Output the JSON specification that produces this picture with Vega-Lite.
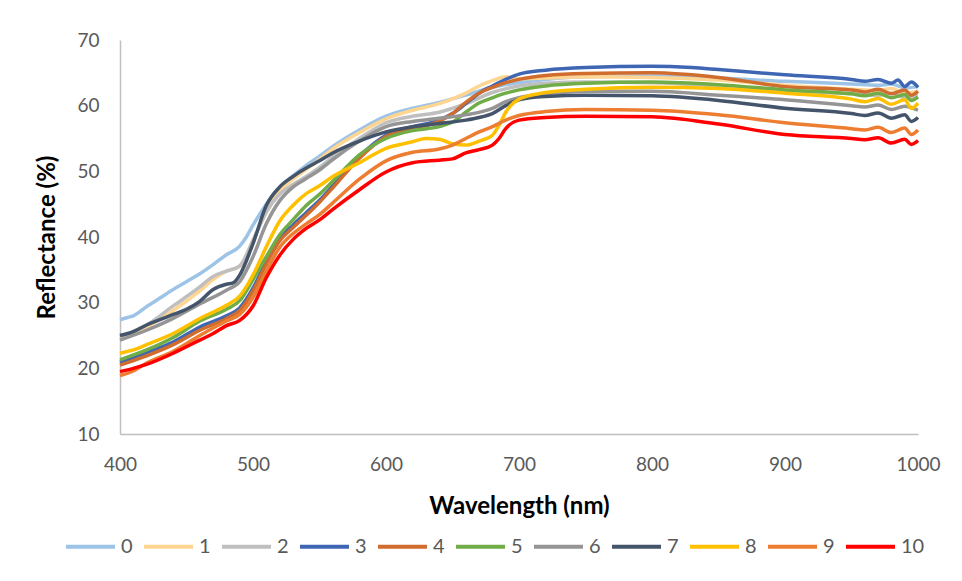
{
  "$schema": "https://vega.github.io/schema/vega-lite/v6.json",
  "width": 798,
  "height": 394,
  "autosize": {"type": "none"},
  "padding": {"left": 120, "top": 40, "right": 44, "bottom": 147},
  "background": "#ffffff",
  "config": {
    "view": {"stroke": null},
    "axis": {
      "grid": false,
      "ticks": false,
      "labelFlush": false,
      "domainColor": "#BFBFBF",
      "domainWidth": 1.5,
      "labelColor": "#595959",
      "labelFont": "Lato",
      "labelFontSize": 19,
      "titleFont": "Lato",
      "titleFontSize": 24,
      "titleFontWeight": "bold",
      "titleColor": "#000000"
    }
  },
  "data": {"values": [
    {"s":"0","x":400,"y":27.4},{"s":"0","x":405,"y":27.7},{"s":"0","x":410,"y":28.0},{"s":"0","x":420,"y":29.4},{"s":"0","x":430,"y":30.7},{"s":"0","x":440,"y":32.0},{"s":"0","x":450,"y":33.2},{"s":"0","x":460,"y":34.4},{"s":"0","x":470,"y":35.8},{"s":"0","x":480,"y":37.3},{"s":"0","x":490,"y":38.6},{"s":"0","x":495,"y":40.0},{"s":"0","x":500,"y":41.8},{"s":"0","x":510,"y":45.0},{"s":"0","x":520,"y":47.6},{"s":"0","x":530,"y":49.3},{"s":"0","x":540,"y":50.9},{"s":"0","x":550,"y":52.3},{"s":"0","x":560,"y":53.8},{"s":"0","x":580,"y":56.3},{"s":"0","x":600,"y":58.4},{"s":"0","x":620,"y":59.6},{"s":"0","x":640,"y":60.5},{"s":"0","x":660,"y":61.6},{"s":"0","x":680,"y":62.8},{"s":"0","x":700,"y":63.5},{"s":"0","x":720,"y":64.0},{"s":"0","x":750,"y":64.4},{"s":"0","x":800,"y":64.5},{"s":"0","x":850,"y":64.2},{"s":"0","x":900,"y":63.7},{"s":"0","x":950,"y":63.3},{"s":"0","x":970,"y":63.1},{"s":"0","x":980,"y":63.3},{"s":"0","x":990,"y":62.7},{"s":"0","x":1000,"y":62.9},

    {"s":"1","x":400,"y":24.6},{"s":"1","x":420,"y":26.3},{"s":"1","x":440,"y":28.8},{"s":"1","x":460,"y":31.8},{"s":"1","x":470,"y":33.5},{"s":"1","x":480,"y":34.8},{"s":"1","x":490,"y":35.5},{"s":"1","x":500,"y":39.5},{"s":"1","x":510,"y":43.8},{"s":"1","x":520,"y":47.0},{"s":"1","x":530,"y":48.8},{"s":"1","x":540,"y":50.3},{"s":"1","x":550,"y":51.8},{"s":"1","x":560,"y":53.4},{"s":"1","x":580,"y":55.9},{"s":"1","x":600,"y":58.0},{"s":"1","x":620,"y":59.3},{"s":"1","x":640,"y":60.3},{"s":"1","x":660,"y":61.9},{"s":"1","x":670,"y":63.0},{"s":"1","x":680,"y":63.8},{"s":"1","x":690,"y":64.4},{"s":"1","x":700,"y":64.1},{"s":"1","x":720,"y":64.2},{"s":"1","x":750,"y":64.4},{"s":"1","x":800,"y":64.3},{"s":"1","x":850,"y":63.9},{"s":"1","x":900,"y":63.1},{"s":"1","x":950,"y":62.5},{"s":"1","x":970,"y":62.3},{"s":"1","x":980,"y":62.6},{"s":"1","x":990,"y":61.9},{"s":"1","x":1000,"y":62.2},

    {"s":"2","x":400,"y":24.8},{"s":"2","x":420,"y":26.6},{"s":"2","x":440,"y":29.5},{"s":"2","x":460,"y":32.4},{"s":"2","x":470,"y":34.0},{"s":"2","x":480,"y":34.8},{"s":"2","x":490,"y":35.6},{"s":"2","x":500,"y":39.5},{"s":"2","x":510,"y":43.8},{"s":"2","x":520,"y":46.5},{"s":"2","x":530,"y":48.0},{"s":"2","x":540,"y":49.2},{"s":"2","x":550,"y":50.6},{"s":"2","x":560,"y":52.2},{"s":"2","x":580,"y":55.0},{"s":"2","x":600,"y":57.4},{"s":"2","x":620,"y":58.4},{"s":"2","x":640,"y":59.0},{"s":"2","x":660,"y":60.3},{"s":"2","x":680,"y":62.0},{"s":"2","x":700,"y":63.0},{"s":"2","x":720,"y":63.4},{"s":"2","x":750,"y":63.6},{"s":"2","x":800,"y":63.5},{"s":"2","x":850,"y":63.0},{"s":"2","x":900,"y":62.3},{"s":"2","x":950,"y":61.8},{"s":"2","x":970,"y":61.6},{"s":"2","x":980,"y":61.9},{"s":"2","x":990,"y":61.2},{"s":"2","x":1000,"y":61.5},

    {"s":"3","x":400,"y":20.9},{"s":"3","x":420,"y":22.4},{"s":"3","x":440,"y":24.0},{"s":"3","x":460,"y":26.3},{"s":"3","x":480,"y":28.0},{"s":"3","x":490,"y":29.2},{"s":"3","x":500,"y":32.2},{"s":"3","x":510,"y":36.3},{"s":"3","x":520,"y":39.7},{"s":"3","x":530,"y":41.8},{"s":"3","x":540,"y":43.7},{"s":"3","x":550,"y":45.6},{"s":"3","x":560,"y":47.8},{"s":"3","x":580,"y":52.3},{"s":"3","x":600,"y":55.5},{"s":"3","x":620,"y":56.8},{"s":"3","x":640,"y":57.8},{"s":"3","x":650,"y":58.8},{"s":"3","x":660,"y":60.3},{"s":"3","x":670,"y":61.9},{"s":"3","x":680,"y":63.0},{"s":"3","x":690,"y":64.0},{"s":"3","x":700,"y":64.8},{"s":"3","x":720,"y":65.4},{"s":"3","x":750,"y":65.8},{"s":"3","x":800,"y":66.0},{"s":"3","x":830,"y":65.8},{"s":"3","x":850,"y":65.5},{"s":"3","x":900,"y":64.7},{"s":"3","x":950,"y":64.0},{"s":"3","x":960,"y":63.7},{"s":"3","x":970,"y":64.0},{"s":"3","x":980,"y":63.4},{"s":"3","x":985,"y":63.9},{"s":"3","x":990,"y":62.9},{"s":"3","x":995,"y":63.6},{"s":"3","x":1000,"y":62.8},

    {"s":"4","x":400,"y":20.5},{"s":"4","x":420,"y":21.9},{"s":"4","x":440,"y":23.6},{"s":"4","x":460,"y":25.8},{"s":"4","x":480,"y":27.6},{"s":"4","x":490,"y":28.8},{"s":"4","x":500,"y":31.8},{"s":"4","x":510,"y":35.9},{"s":"4","x":520,"y":39.4},{"s":"4","x":530,"y":41.4},{"s":"4","x":540,"y":43.3},{"s":"4","x":550,"y":45.3},{"s":"4","x":560,"y":47.5},{"s":"4","x":580,"y":52.0},{"s":"4","x":600,"y":55.3},{"s":"4","x":620,"y":56.6},{"s":"4","x":640,"y":57.6},{"s":"4","x":650,"y":58.8},{"s":"4","x":660,"y":60.5},{"s":"4","x":670,"y":61.9},{"s":"4","x":680,"y":62.8},{"s":"4","x":690,"y":63.5},{"s":"4","x":700,"y":64.0},{"s":"4","x":720,"y":64.6},{"s":"4","x":750,"y":64.9},{"s":"4","x":800,"y":65.0},{"s":"4","x":850,"y":64.3},{"s":"4","x":900,"y":62.9},{"s":"4","x":950,"y":62.4},{"s":"4","x":960,"y":62.1},{"s":"4","x":970,"y":62.5},{"s":"4","x":980,"y":61.8},{"s":"4","x":990,"y":62.4},{"s":"4","x":995,"y":61.6},{"s":"4","x":1000,"y":62.2},

    {"s":"5","x":400,"y":21.3},{"s":"5","x":420,"y":22.8},{"s":"5","x":440,"y":24.7},{"s":"5","x":460,"y":27.2},{"s":"5","x":480,"y":29.0},{"s":"5","x":490,"y":30.3},{"s":"5","x":500,"y":33.5},{"s":"5","x":510,"y":37.0},{"s":"5","x":520,"y":40.3},{"s":"5","x":530,"y":42.6},{"s":"5","x":540,"y":44.8},{"s":"5","x":550,"y":46.5},{"s":"5","x":560,"y":48.5},{"s":"5","x":580,"y":52.5},{"s":"5","x":600,"y":55.0},{"s":"5","x":620,"y":56.2},{"s":"5","x":640,"y":56.8},{"s":"5","x":650,"y":57.5},{"s":"5","x":660,"y":59.0},{"s":"5","x":670,"y":60.4},{"s":"5","x":680,"y":61.2},{"s":"5","x":690,"y":61.9},{"s":"5","x":700,"y":62.4},{"s":"5","x":720,"y":63.0},{"s":"5","x":750,"y":63.4},{"s":"5","x":800,"y":63.6},{"s":"5","x":850,"y":63.2},{"s":"5","x":900,"y":62.4},{"s":"5","x":950,"y":61.8},{"s":"5","x":960,"y":61.5},{"s":"5","x":970,"y":61.9},{"s":"5","x":980,"y":61.2},{"s":"5","x":990,"y":61.7},{"s":"5","x":995,"y":60.8},{"s":"5","x":1000,"y":61.3},

    {"s":"6","x":400,"y":24.3},{"s":"6","x":420,"y":25.8},{"s":"6","x":440,"y":27.6},{"s":"6","x":460,"y":29.8},{"s":"6","x":480,"y":31.9},{"s":"6","x":490,"y":33.2},{"s":"6","x":500,"y":37.0},{"s":"6","x":510,"y":42.0},{"s":"6","x":520,"y":45.5},{"s":"6","x":530,"y":47.6},{"s":"6","x":540,"y":48.9},{"s":"6","x":550,"y":50.2},{"s":"6","x":560,"y":51.8},{"s":"6","x":580,"y":54.6},{"s":"6","x":600,"y":56.8},{"s":"6","x":620,"y":57.6},{"s":"6","x":640,"y":58.1},{"s":"6","x":660,"y":58.6},{"s":"6","x":680,"y":59.6},{"s":"6","x":690,"y":60.6},{"s":"6","x":700,"y":61.2},{"s":"6","x":720,"y":61.8},{"s":"6","x":750,"y":62.2},{"s":"6","x":800,"y":62.2},{"s":"6","x":850,"y":61.6},{"s":"6","x":900,"y":60.9},{"s":"6","x":950,"y":60.0},{"s":"6","x":960,"y":59.8},{"s":"6","x":970,"y":60.1},{"s":"6","x":980,"y":59.4},{"s":"6","x":990,"y":59.9},{"s":"6","x":1000,"y":59.3},

    {"s":"7","x":400,"y":25.0},{"s":"7","x":410,"y":25.6},{"s":"7","x":420,"y":26.6},{"s":"7","x":430,"y":27.4},{"s":"7","x":440,"y":28.2},{"s":"7","x":450,"y":29.0},{"s":"7","x":460,"y":30.2},{"s":"7","x":470,"y":32.0},{"s":"7","x":480,"y":32.8},{"s":"7","x":485,"y":33.0},{"s":"7","x":490,"y":34.2},{"s":"7","x":500,"y":39.0},{"s":"7","x":510,"y":44.8},{"s":"7","x":520,"y":47.6},{"s":"7","x":530,"y":49.2},{"s":"7","x":540,"y":50.5},{"s":"7","x":550,"y":51.6},{"s":"7","x":560,"y":52.8},{"s":"7","x":580,"y":54.6},{"s":"7","x":600,"y":56.0},{"s":"7","x":620,"y":56.8},{"s":"7","x":640,"y":57.3},{"s":"7","x":660,"y":57.8},{"s":"7","x":670,"y":58.2},{"s":"7","x":680,"y":58.8},{"s":"7","x":690,"y":60.0},{"s":"7","x":700,"y":60.9},{"s":"7","x":720,"y":61.4},{"s":"7","x":750,"y":61.6},{"s":"7","x":800,"y":61.5},{"s":"7","x":850,"y":60.8},{"s":"7","x":900,"y":59.6},{"s":"7","x":950,"y":58.8},{"s":"7","x":960,"y":58.5},{"s":"7","x":970,"y":58.9},{"s":"7","x":980,"y":58.1},{"s":"7","x":990,"y":58.6},{"s":"7","x":995,"y":57.6},{"s":"7","x":1000,"y":58.2},

    {"s":"8","x":400,"y":22.3},{"s":"8","x":410,"y":22.8},{"s":"8","x":420,"y":23.6},{"s":"8","x":440,"y":25.3},{"s":"8","x":460,"y":27.6},{"s":"8","x":480,"y":29.6},{"s":"8","x":490,"y":31.0},{"s":"8","x":500,"y":34.2},{"s":"8","x":510,"y":38.5},{"s":"8","x":520,"y":42.4},{"s":"8","x":530,"y":44.8},{"s":"8","x":540,"y":46.6},{"s":"8","x":550,"y":47.8},{"s":"8","x":560,"y":49.2},{"s":"8","x":580,"y":51.3},{"s":"8","x":600,"y":53.5},{"s":"8","x":620,"y":54.5},{"s":"8","x":630,"y":55.0},{"s":"8","x":640,"y":54.9},{"s":"8","x":650,"y":54.2},{"s":"8","x":660,"y":54.0},{"s":"8","x":670,"y":54.6},{"s":"8","x":680,"y":55.5},{"s":"8","x":685,"y":57.0},{"s":"8","x":690,"y":59.0},{"s":"8","x":700,"y":61.0},{"s":"8","x":720,"y":62.0},{"s":"8","x":750,"y":62.5},{"s":"8","x":800,"y":62.8},{"s":"8","x":850,"y":62.6},{"s":"8","x":900,"y":61.9},{"s":"8","x":950,"y":61.0},{"s":"8","x":960,"y":60.6},{"s":"8","x":970,"y":61.1},{"s":"8","x":980,"y":60.2},{"s":"8","x":990,"y":60.9},{"s":"8","x":995,"y":59.6},{"s":"8","x":1000,"y":60.4},

    {"s":"9","x":400,"y":18.9},{"s":"9","x":410,"y":19.6},{"s":"9","x":420,"y":20.8},{"s":"9","x":440,"y":22.6},{"s":"9","x":460,"y":25.0},{"s":"9","x":480,"y":27.2},{"s":"9","x":490,"y":28.2},{"s":"9","x":500,"y":30.8},{"s":"9","x":510,"y":34.8},{"s":"9","x":520,"y":38.4},{"s":"9","x":530,"y":40.5},{"s":"9","x":540,"y":42.0},{"s":"9","x":550,"y":43.4},{"s":"9","x":560,"y":45.2},{"s":"9","x":580,"y":48.8},{"s":"9","x":600,"y":51.6},{"s":"9","x":620,"y":52.9},{"s":"9","x":640,"y":53.4},{"s":"9","x":650,"y":54.0},{"s":"9","x":660,"y":55.0},{"s":"9","x":670,"y":56.0},{"s":"9","x":680,"y":56.8},{"s":"9","x":690,"y":57.8},{"s":"9","x":700,"y":58.5},{"s":"9","x":720,"y":59.1},{"s":"9","x":750,"y":59.4},{"s":"9","x":800,"y":59.3},{"s":"9","x":850,"y":58.6},{"s":"9","x":900,"y":57.4},{"s":"9","x":950,"y":56.5},{"s":"9","x":960,"y":56.3},{"s":"9","x":970,"y":56.7},{"s":"9","x":980,"y":55.9},{"s":"9","x":990,"y":56.6},{"s":"9","x":995,"y":55.6},{"s":"9","x":1000,"y":56.3},

    {"s":"10","x":400,"y":19.5},{"s":"10","x":410,"y":20.0},{"s":"10","x":420,"y":20.6},{"s":"10","x":440,"y":22.3},{"s":"10","x":460,"y":24.3},{"s":"10","x":470,"y":25.3},{"s":"10","x":480,"y":26.5},{"s":"10","x":490,"y":27.3},{"s":"10","x":500,"y":29.5},{"s":"10","x":510,"y":33.8},{"s":"10","x":520,"y":37.2},{"s":"10","x":530,"y":39.6},{"s":"10","x":540,"y":41.3},{"s":"10","x":550,"y":42.6},{"s":"10","x":560,"y":44.2},{"s":"10","x":580,"y":47.2},{"s":"10","x":600,"y":49.9},{"s":"10","x":620,"y":51.3},{"s":"10","x":640,"y":51.7},{"s":"10","x":650,"y":51.9},{"s":"10","x":660,"y":52.8},{"s":"10","x":670,"y":53.3},{"s":"10","x":680,"y":54.0},{"s":"10","x":685,"y":55.0},{"s":"10","x":690,"y":56.5},{"s":"10","x":700,"y":57.8},{"s":"10","x":720,"y":58.2},{"s":"10","x":750,"y":58.4},{"s":"10","x":800,"y":58.3},{"s":"10","x":850,"y":57.2},{"s":"10","x":900,"y":55.6},{"s":"10","x":950,"y":55.0},{"s":"10","x":960,"y":54.8},{"s":"10","x":970,"y":55.1},{"s":"10","x":980,"y":54.3},{"s":"10","x":990,"y":54.9},{"s":"10","x":995,"y":54.1},{"s":"10","x":1000,"y":54.7}
  ]},
  "mark": {"type": "line", "strokeWidth": 3.5, "interpolate": "monotone"},
  "encoding": {
    "x": {"field": "x", "type": "quantitative", "scale": {"domain": [400, 1000]}, "axis": {"title": "Wavelength (nm)", "format": "d", "values": [400,500,600,700,800,900,1000], "labelPadding": 21, "titlePadding": 20}},
    "y": {"field": "y", "type": "quantitative", "scale": {"domain": [10, 70]}, "axis": {"title": "Reflectance (%)", "format": "d", "values": [10,20,30,40,50,60,70], "labelPadding": 21, "titlePadding": 17}},
    "color": {"field": "s", "type": "nominal",
      "scale": {"domain": ["0","1","2","3","4","5","6","7","8","9","10"],
                "range": ["#9DC3E6","#FFD591","#BFBFBF","#3F66B3","#CF6C2E","#70AD47","#959595","#44546A","#FFC000","#ED7D31","#FF0000"]},
      "legend": {"title": null, "orient": "none", "legendX": -56, "legendY": 480, "direction": "horizontal", "columns": 11,
        "symbolType": "stroke", "symbolSize": 2401, "symbolStrokeWidth": 4, "labelFont": "Lato", "labelFontSize": 20, "labelColor": "#595959", "labelOffset": 4, "columnPadding": 3, "padding": 0}}
  }
}
